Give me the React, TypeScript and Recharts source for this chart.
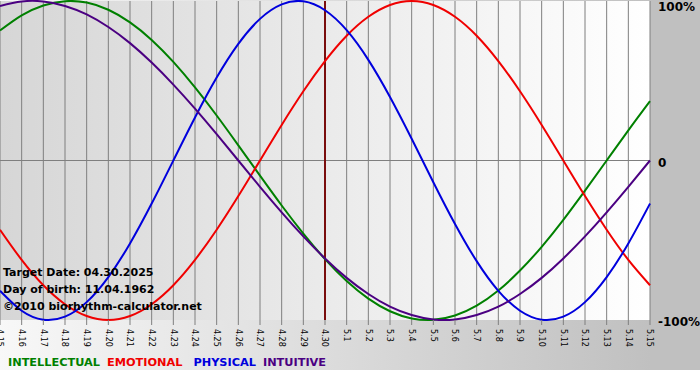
import { LineChart, Line, XAxis, YAxis, CartesianGrid, ReferenceLine } from 'recharts';

// days shown, target day in the middle
const dates = [
  '4.15', '4.16', '4.17', '4.18', '4.19', '4.20', '4.21', '4.22', '4.23', '4.24', '4.25',
  '4.26', '4.27', '4.28', '4.29', '4.30', '5.1', '5.2', '5.3', '5.4', '5.5', '5.6',
  '5.7', '5.8', '5.9', '5.10', '5.11', '5.12', '5.13', '5.14', '5.15',
];
const targetDay = '4.30';

// percent values per day
const intellectual = [81.5, 91.0, 97.2, 99.9, 99.0, 94.5, 86.6, 75.6, 61.8, 45.8, 28.2, 9.5, -9.5, -28.2, -45.8, -61.8, -75.6, -86.6, -94.5, -99.0, -99.9, -97.2, -91.0, -81.5, -69.0, -54.1, -37.2, -18.9, 0, 18.9, 37.2];
const emotional = [-43.4, -62.3, -78.2, -90.1, -97.5, -100, -97.5, -90.1, -78.2, -62.3, -43.4, -22.3, 0, 22.3, 43.4, 62.3, 78.2, 90.1, 97.5, 100, 97.5, 90.1, 78.2, 62.3, 43.4, 22.3, 0, -22.3, -43.4, -62.3, -78.2];
const physical = [-81.7, -94.2, -99.8, -97.9, -88.8, -73.1, -52.0, -27.0, 0, 27.0, 52.0, 73.1, 88.8, 97.9, 99.8, 94.2, 81.7, 63.1, 39.8, 13.6, -13.6, -39.8, -63.1, -81.7, -94.2, -99.8, -97.9, -88.8, -73.1, -52.0, -27.0];
const intuitive = [96.9, 99.7, 99.7, 96.9, 91.6, 83.7, 73.6, 61.4, 47.6, 32.5, 16.5, 0, -16.5, -32.5, -47.6, -61.4, -73.6, -83.7, -91.6, -96.9, -99.7, -99.7, -96.9, -91.6, -83.7, -73.6, -61.4, -47.6, -32.5, -16.5, 0];

const yTicks = [-100, 0, 100];
const yLabels: Record<number, string> = { '-100': '-100%', 0: '0', 100: '100%' };

const series = [
  { key: 'intellectual', name: 'INTELLECTUAL', color: '#008000', gap: 7 },
  { key: 'emotional', name: 'EMOTIONAL', color: '#f00000', gap: 11 },
  { key: 'physical', name: 'PHYSICAL', color: '#0000dd', gap: 7 },
  { key: 'intuitive', name: 'INTUITIVE', color: '#4b0082', gap: 0 },
];

const notes = ['Target Date: 04.30.2025', 'Day of birth: 11.04.1962', '\u00a92010 biorhythm-calculator.net'];

const data = dates.map((date, i) => ({
  date,
  intellectual: intellectual[i],
  emotional: emotional[i],
  physical: physical[i],
  intuitive: intuitive[i],
}));

const font = '"DejaVu Sans", Verdana, sans-serif';

function DateTick(props: any) {
  const { x, y, payload } = props;
  return (
    <text
      x={x}
      y={y + 2}
      transform={`rotate(90 ${x} ${y + 2})`}
      dy="0.35em"
      fontSize={8}
      fontFamily={font}
      fill="#000"
      textAnchor="start"
    >
      {payload.value}
    </text>
  );
}

function PercentTick(props: any) {
  const { y, payload } = props;
  // labels sit just right of the plot (which ends at 650)
  return (
    <text x={658} y={y < 20 ? 11 : y + 6} fontSize={12} fontWeight="bold" fontFamily={font} fill="#000">
      {yLabels[payload.value]}
    </text>
  );
}

export default function App() {
  return (
    <div style={{ position: 'relative', width: 700, height: 380, background: '#fff', overflow: 'hidden' }}>
      <style>{`body{margin:0}`}</style>
      <div
        style={{
          position: 'absolute', left: 0, top: 0, width: 700, height: 370,
          background: 'linear-gradient(to right, #f8f8f8 0%, #c0c0c0 93%)',
        }}
      />
      <div style={{ position: 'absolute', left: 0, top: 0 }}>
        <LineChart width={700} height={380} data={data} margin={{ top: 1, right: 0, bottom: 0, left: 0 }}>
          <defs>
            <linearGradient id="plotBg" x1="0" y1="0" x2="1" y2="0">
              <stop offset="0%" stopColor="#d6d6d6" />
              <stop offset="100%" stopColor="#ffffff" />
            </linearGradient>
          </defs>
          <CartesianGrid horizontal={false} stroke="#7f7f7f" fill="url(#plotBg)" fillOpacity={1} />
          <XAxis
            dataKey="date"
            interval={0}
            height={60}
            axisLine={false}
            tickSize={5}
            tickLine={{ stroke: '#7f7f7f' }}
            tick={<DateTick />}
          />
          <YAxis
            orientation="right"
            width={50}
            domain={[-100, 100]}
            ticks={yTicks}
            axisLine={false}
            tickLine={false}
            tick={<PercentTick />}
          />
          <ReferenceLine y={0} stroke="#7f7f7f" />
          <ReferenceLine x={targetDay} stroke="#7a0d0d" strokeWidth={2} />
          {series.map((s) => (
            <Line
              key={s.key}
              dataKey={s.key}
              type="natural"
              stroke={s.color}
              strokeWidth={2}
              dot={false}
              isAnimationActive={false}
            />
          ))}
        </LineChart>
      </div>
      <div
        style={{
          position: 'absolute', left: 3, top: 264, fontFamily: font, fontWeight: 'bold',
          fontSize: 11, lineHeight: '17px', color: '#000',
        }}
      >
        {notes.map((n) => (
          <div key={n}>{n}</div>
        ))}
      </div>
      <div
        style={{
          position: 'absolute', left: 8, top: 356, fontFamily: font, fontWeight: 'bold',
          fontSize: 11.3, whiteSpace: 'nowrap',
        }}
      >
        {series.map((s) => (
          <span key={s.key} style={{ color: s.color, marginRight: s.gap }}>
            {s.name}
          </span>
        ))}
      </div>
    </div>
  );
}
